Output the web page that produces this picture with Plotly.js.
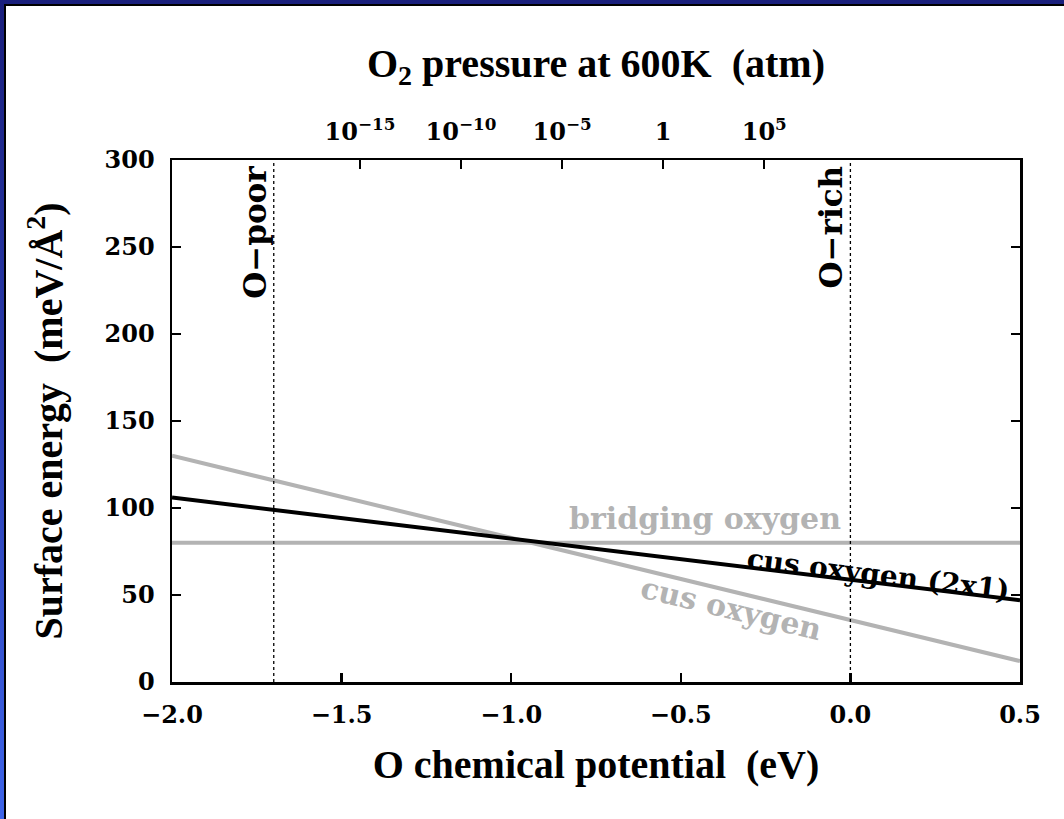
<!DOCTYPE html>
<html>
<head>
<meta charset="utf-8">
<script src="https://cdn.plot.ly/plotly-3.0.1.min.js"></script>
<style>
  html, body { margin: 0; padding: 0; width: 1064px; height: 819px; overflow: hidden;
    background: linear-gradient(to bottom, #1a1f7c 0%, #2a3db0 50%, #3e64e8 100%); }
  #frame { position: absolute; left: 4px; top: 4px; width: 1060px; height: 815px;
    background: #ffffff; border-left: 2px solid #000; border-top: 2px solid #000; }
  #chart { position: absolute; left: 0; top: 0; width: 1060px; height: 815px; }
</style>
</head>
<body>
<div id="frame"><div id="chart"></div></div>
<script>
// ---- data ----
const muRange = [-2.0, 0.5];                // O chemical potential (eV), x extent of lines
const bridgingOxygen = [80, 80];            // meV/Å²
const cusOxygen = [130, 12];                // meV/Å²
const cusOxygen2x1 = [106, 47];             // meV/Å²
const oPoor = -1.7;                          // eV
const oRich = 0.0;                           // eV
const pressureTickExp = [-15, -10, -5, 0, 5];
const pressureTickText = ['10<sup>−15</sup>', '10<sup>−10</sup>', '10<sup>−5</sup>', '1', '10<sup>5</sup>'];
const yTicks = [0, 50, 100, 150, 200, 250, 300];
const xTicks = [-2.0, -1.5, -1.0, -0.5, 0.0, 0.5];

// pressure scale at 600 K: chemical potential at 1 atm and eV per decade
const muAt1atm = -0.552;
const evPerDecade = 0.0596;
const xRange = [-2.0, 0.5];
const pRange = xRange.map(v => (v - muAt1atm) / evPerDecade);

const serifTitle = 'Liberation Serif, Times New Roman, serif';
const serifTick = 'DejaVu Serif, serif';
const GRAY = '#b3b3b3';

const traces = [
  { x: muRange, y: bridgingOxygen, mode: 'lines', line: { color: GRAY, width: 4 }, hoverinfo: 'skip', showlegend: false },
  { x: muRange, y: cusOxygen, mode: 'lines', line: { color: GRAY, width: 4 }, hoverinfo: 'skip', showlegend: false },
  { x: muRange, y: cusOxygen2x1, mode: 'lines', line: { color: '#000000', width: 4 }, hoverinfo: 'skip', showlegend: false },
  { x: pressureTickExp, y: pressureTickExp.map(() => null), xaxis: 'x2', yaxis: 'y', mode: 'markers',
    marker: { opacity: 0 }, hoverinfo: 'skip', showlegend: false }
];

const layout = {
  width: 1060, height: 815,
  margin: { l: 166, r: 46, t: 154, b: 139 },
  paper_bgcolor: '#ffffff', plot_bgcolor: '#ffffff',
  showlegend: false,
  title: {
    text: 'O<sub>2</sub> pressure at 600K  (atm)',
    font: { family: serifTitle, size: 40, color: '#000', weight: 'bold' },
    xref: 'paper', x: 0.5, xanchor: 'center',
    yref: 'container', y: 0.93, yanchor: 'middle'
  },
  xaxis: {
    range: xRange, tickvals: xTicks, tickformat: '.1f',
    ticks: 'inside', ticklen: 9, tickwidth: 2.5, tickcolor: '#000',
    showline: true, linewidth: 2.5, linecolor: '#000', mirror: true,
    showgrid: false, zeroline: false,
    tickfont: { family: serifTick, size: 24, color: '#000', weight: 'bold' },
    ticklabelstandoff: 10,
    title: { text: 'O chemical potential  (eV)', standoff: 22,
      font: { family: serifTitle, size: 40, color: '#000', weight: 'bold' } }
  },
  xaxis2: {
    overlaying: 'x', side: 'top', anchor: 'y',
    range: pRange, tickvals: pressureTickExp, ticktext: pressureTickText,
    ticks: 'inside', ticklen: 9, tickwidth: 2.5, tickcolor: '#000',
    showline: true, linewidth: 2.5, linecolor: '#000',
    showgrid: false, zeroline: false,
    tickfont: { family: serifTick, size: 24, color: '#000', weight: 'bold' },
    ticklabelstandoff: 8
  },
  yaxis: {
    range: [0, 300], tickvals: yTicks,
    ticks: 'inside', ticklen: 9, tickwidth: 2.5, tickcolor: '#000',
    showline: true, linewidth: 2.5, linecolor: '#000', mirror: 'ticks',
    showgrid: false, zeroline: false,
    tickfont: { family: serifTick, size: 24, color: '#000', weight: 'bold' },
    ticklabelstandoff: 10,
    title: { text: 'Surface energy  (meV/Å<sup>2</sup>)', standoff: 30,
      font: { family: serifTitle, size: 40, color: '#000', weight: 'bold' } }
  },
  shapes: [
    { type: 'line', xref: 'x', yref: 'paper', x0: oPoor, x1: oPoor, y0: 0, y1: 1,
      line: { color: '#000', width: 1.3, dash: 'dot' } },
    { type: 'line', xref: 'x', yref: 'paper', x0: oRich, x1: oRich, y0: 0, y1: 1,
      line: { color: '#000', width: 1.3, dash: 'dot' } }
  ],
  annotations: [
    { text: 'O−poor', x: oPoor, y: 298, xref: 'x', yref: 'y', xanchor: 'right', yanchor: 'top',
      textangle: -90, showarrow: false, xshift: 1,
      font: { family: serifTick, size: 31, color: '#000', weight: 'bold' } },
    { text: 'O−rich', x: oRich, y: 298, xref: 'x', yref: 'y', xanchor: 'right', yanchor: 'top',
      textangle: -90, showarrow: false, xshift: 1,
      font: { family: serifTick, size: 31, color: '#000', weight: 'bold' } },
    { text: 'bridging oxygen', x: -0.43, y: 94, xref: 'x', yref: 'y', showarrow: false,
      font: { family: serifTick, size: 30, color: GRAY, weight: 'bold' } },
    { text: 'cus oxygen (2x1)', x: 0.08, y: 61.5, xref: 'x', yref: 'y', showarrow: false, textangle: 7,
      font: { family: serifTick, size: 28, color: '#000', weight: 'bold' } },
    { text: 'cus oxygen', x: -0.35, y: 42.5, xref: 'x', yref: 'y', showarrow: false, textangle: 13.6,
      font: { family: serifTick, size: 30, color: GRAY, weight: 'bold' } }
  ]
};

Plotly.newPlot('chart', traces, layout, { staticPlot: true, displayModeBar: false });
</script>
</body>
</html>
